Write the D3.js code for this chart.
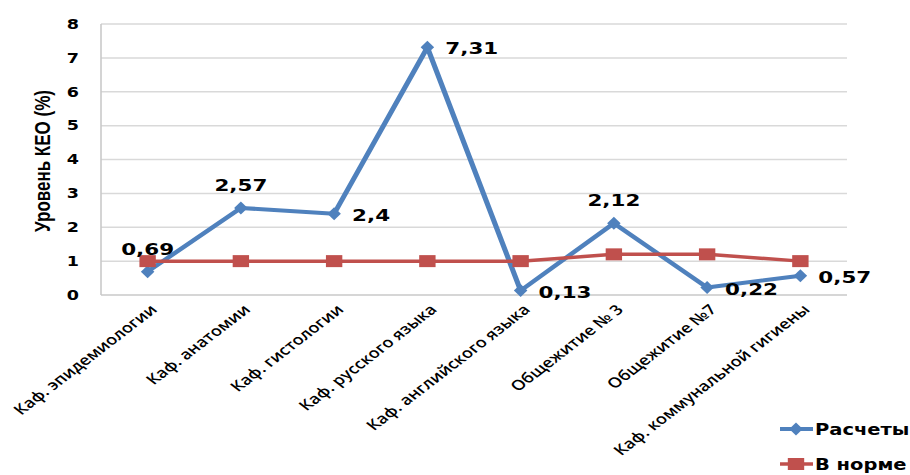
<!DOCTYPE html>
<html><head><meta charset="utf-8">
<script src="https://cdn.jsdelivr.net/npm/d3@7"></script>
<style>
html,body{margin:0;padding:0;background:#fff;}
svg{display:block;}
</style>
</head><body>
<svg id="chart" width="910" height="475"></svg>
<script>
const categories = ["Каф. эпидемиологии","Каф. анатомии","Каф. гистологии","Каф. русского языка","Каф. английского языка","Общежитие № 3","Общежитие №7","Каф. коммунальной гигиены"];
const raschety = [0.69, 2.57, 2.4, 7.31, 0.13, 2.12, 0.22, 0.57];
const vNorme = [1, 1, 1, 1, 1, 1.2, 1.2, 1];
const valueLabels = ["0,69","2,57","2,4","7,31","0,13","2,12","0,22","0,57"];
const labelPlacement = ["above","above","right","right","right","above","right","right"];
const yTicks = [0,1,2,3,4,5,6,7,8];
const seriesNames = ["Расчеты","В норме"];
const yTitle = "Уровень КЕО (%)";

const sx = 1.3; // horizontal stretch of the whole picture
const blue = "#4F81BD", red = "#C0504D";
const svg = d3.select("#chart");
const g = svg.append("g").attr("transform", `scale(${sx},1)`);

const L = 101/sx, R = 847/sx, T = 24, B = 295;
const x = d3.scalePoint().domain(categories).range([L, R]).padding(0.5);
const y = d3.scaleLinear().domain([0, 8]).range([B, T]);

// gridlines
g.append("g").selectAll("line").data(yTicks.filter(d=>d>0)).join("line")
  .attr("x1", L).attr("x2", R).attr("y1", d=>y(d)).attr("y2", d=>y(d))
  .attr("stroke", "#d9d9d9").attr("stroke-width", 1.5);
// axes lines
g.append("line").attr("x1", L).attr("x2", R).attr("y1", y(0)).attr("y2", y(0))
  .attr("stroke", "#c8c8c8").attr("stroke-width", 1.5);
g.append("line").attr("x1", L).attr("x2", L).attr("y1", y(0)).attr("y2", y(8))
  .attr("stroke", "#c8c8c8").attr("stroke-width", 1.2);

// y axis tick labels
const yAxis = g.append("g").attr("transform", `translate(${L},0)`)
  .call(d3.axisLeft(y).tickValues(yTicks).tickSize(0).tickPadding(17).tickFormat(d3.format("d")));
yAxis.select(".domain").remove();
yAxis.selectAll("text").attr("font-family", "DejaVu Sans, Verdana, sans-serif")
  .attr("font-weight", "bold").attr("font-size", 13.5).attr("fill", "#000");

// y title
g.append("text").attr("transform", `translate(${50/sx},161) rotate(-90)`)
  .attr("text-anchor", "middle").attr("font-family", "Liberation Sans, Arial, sans-serif")
  .attr("font-weight", "bold").attr("font-size", 17).text(yTitle);

// x labels
g.append("g").selectAll("text").data(categories).join("text")
  .attr("transform", d => `translate(${x(d) + 6/sx},307) rotate(-45)`)
  .attr("text-anchor", "end").attr("dy", "0.35em")
  .attr("font-family", "Open Sans, sans-serif").attr("font-weight", 600)
  .attr("font-size", 14).attr("fill", "#000").text(d => d);

// lines
const line = d3.line().x((d,i)=>x(categories[i])).y(d=>y(d));
g.append("path").datum(raschety).attr("d", line).attr("fill", "none")
  .attr("stroke", blue).attr("stroke-width", 4).attr("stroke-linejoin", "round");
const dia = (hw, hh) => `M0,${-hh}L${hw},0L0,${hh}L${-hw},0Z`;
g.append("g").selectAll("path").data(raschety).join("path")
  .attr("transform", (d,i)=>`translate(${x(categories[i])},${y(d)})`)
  .attr("d", dia(5.2, 6.5)).attr("fill", blue);

g.append("path").datum(vNorme).attr("d", line).attr("fill", "none")
  .attr("stroke", red).attr("stroke-width", 3.5);
g.append("g").selectAll("rect").data(vNorme).join("rect")
  .attr("x", (d,i)=>x(categories[i]) - 6.3).attr("y", d=>y(d) - 6)
  .attr("width", 12.6).attr("height", 12).attr("fill", red);

// data labels
g.append("g").selectAll("text").data(raschety).join("text")
  .attr("x", (d,i)=> labelPlacement[i] === "above" ? x(categories[i]) : x(categories[i]) + 18/sx)
  .attr("y", (d,i)=> labelPlacement[i] === "above" ? y(d) - 17 : y(d) + 7)
  .attr("text-anchor", (d,i)=> labelPlacement[i] === "above" ? "middle" : "start")
  .attr("font-family", "DejaVu Sans, Verdana, sans-serif").attr("font-weight", "bold")
  .attr("font-size", 16.5).attr("fill", "#000").text((d,i)=>valueLabels[i]);

// legend
const leg = g.append("g");
const legY = [429, 464];
leg.selectAll("line").data(seriesNames).join("line")
  .attr("x1", 780/sx).attr("x2", 813/sx).attr("y1", (d,i)=>legY[i]).attr("y2", (d,i)=>legY[i])
  .attr("stroke", (d,i)=> i===0 ? blue : red).attr("stroke-width", (d,i)=> i===0 ? 4 : 3.5);
leg.append("path").attr("transform", `translate(${796/sx},${legY[0]})`).attr("d", dia(5.2,6.5)).attr("fill", blue);
leg.append("rect").attr("x", 796/sx - 6.3).attr("y", legY[1]-6).attr("width", 12.6).attr("height", 12).attr("fill", red);
leg.selectAll("text").data(seriesNames).join("text")
  .attr("x", 815/sx).attr("y", (d,i)=>legY[i] + 6)
  .attr("font-family", "DejaVu Sans, Verdana, sans-serif").attr("font-weight", "bold")
  .attr("font-size", 15).attr("fill", "#000").text(d=>d);
</script>
</body></html>
